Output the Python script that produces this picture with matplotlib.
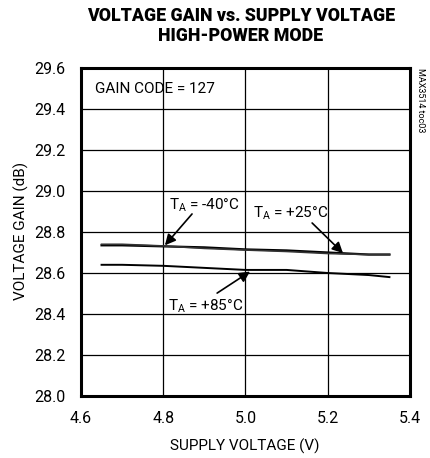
import matplotlib
matplotlib.use("Agg")
import matplotlib.pyplot as plt

plt.rcParams['font.family'] = ['Roboto', 'DejaVu Sans']
plt.rcParams['mathtext.fontset'] = 'custom'
plt.rcParams['mathtext.rm'] = 'Roboto'

supply_v = [4.65, 4.70, 4.80, 4.90, 5.00, 5.10, 5.20, 5.30, 5.35]
gain_m40 = [28.735, 28.735, 28.730, 28.725, 28.715, 28.710, 28.700, 28.690, 28.690]
gain_p25 = [28.740, 28.740, 28.732, 28.720, 28.712, 28.705, 28.695, 28.690, 28.690]
gain_p85 = [28.640, 28.640, 28.635, 28.625, 28.615, 28.615, 28.600, 28.590, 28.580]

x_ticks = [4.6, 4.8, 5.0, 5.2, 5.4]
y_ticks = [28.0, 28.2, 28.4, 28.6, 28.8, 29.0, 29.2, 29.4, 29.6]

fig = plt.figure(figsize=(4.31, 4.58), dpi=100)
W, H = 431, 458
ax = fig.add_axes([81 / W, 1 - 396 / H, (410 - 81) / W, (396 - 68) / H])

ax.plot(supply_v, gain_m40, color='black', lw=1.6)
ax.plot(supply_v, gain_p25, color='#333333', lw=1.2)
ax.plot(supply_v, gain_p85, color='black', lw=1.4)

ax.set_xlim(4.6, 5.4)
ax.set_ylim(28.0, 29.6)
ax.set_xticks(x_ticks)
ax.set_xticklabels([f"{v:.1f}" for v in x_ticks])
ax.set_yticks(y_ticks)
ax.set_yticklabels([f"{v:.1f}" for v in y_ticks])
ax.tick_params(length=0, labelsize=11.5)
ax.tick_params(axis='y', pad=11)
ax.tick_params(axis='x', pad=11)
ax.grid(True, color='black', lw=0.9)
for s in ax.spines.values():
    s.set_linewidth(2.2)

fig.text(245 / W, 1 - 446 / H, "SUPPLY VOLTAGE (V)", fontsize=11, ha='center', va='center')
fig.text(21 / W, 1 - 231 / H, "VOLTAGE GAIN (dB)", fontsize=11, ha='center', va='center', rotation=90)

fig.text(241 / W, 1 - 26 / H, "VOLTAGE GAIN vs. SUPPLY VOLTAGE\nHIGH-POWER MODE",
         ha='center', va='center', fontsize=12.8, fontweight='heavy', linespacing=1.2)

ax.text(4.635, 29.5, "GAIN CODE = 127", fontsize=11, va='center', ha='left')
fig.text(421 / W, 1 - 100 / H, "MAX3514 toc03", rotation=-90, fontsize=6.5, ha='center', va='center')

label_kw = dict(fontsize=11, ha='left', va='center')
ax.text(4.815, 28.93, r"T$_\mathregular{A}$ = -40°C", **label_kw)
ax.text(5.018, 28.89, r"T$_\mathregular{A}$ = +25°C", **label_kw)
ax.text(4.812, 28.44, r"T$_\mathregular{A}$ = +85°C", **label_kw)

arrow = dict(arrowstyle='-|>', color='black', lw=1.2, mutation_scale=16, shrinkA=0, shrinkB=0)
ax.annotate("", xy=(4.804, 28.735), xytext=(4.870, 28.888), arrowprops=arrow)
ax.annotate("", xy=(5.237, 28.697), xytext=(5.162, 28.844), arrowprops=arrow)
ax.annotate("", xy=(5.011, 28.607), xytext=(4.931, 28.502), arrowprops=arrow)

fig.savefig("out.png", dpi=100)
